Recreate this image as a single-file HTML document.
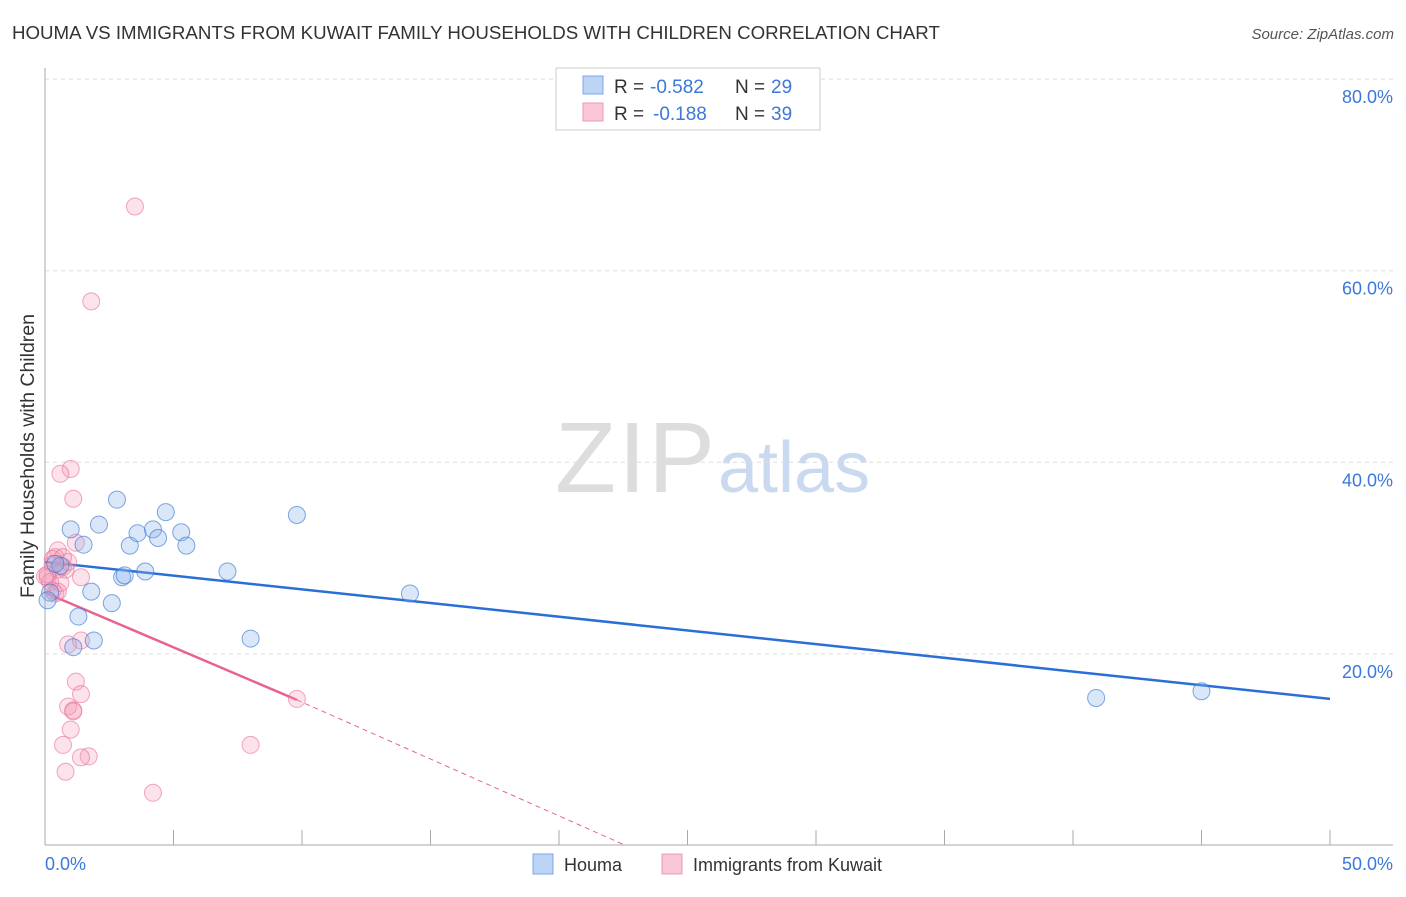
<!DOCTYPE html>
<html><head><meta charset="utf-8"><style>
body{margin:0;background:#fff;font-family:"Liberation Sans",sans-serif}
svg text{font-family:"Liberation Sans",sans-serif}
</style></head><body>
<svg width="1406" height="892">
<text x="12" y="39" font-size="18.7" fill="#333">HOUMA VS IMMIGRANTS FROM KUWAIT FAMILY HOUSEHOLDS WITH CHILDREN CORRELATION CHART</text>
<text x="1394" y="39" font-size="15" fill="#555" font-style="italic" text-anchor="end">Source: ZipAtlas.com</text>
<text x="555" y="492" font-size="100" fill="#ddd" textLength="160" font-family="Liberation Serif">ZIP</text>
<text x="718" y="492" font-size="72" fill="#c9d9f0">atlas</text>
<g id="grid"></g><g id="axes"></g><g id="lines"></g><g id="pts"></g>
<text transform="translate(34,456) rotate(-90)" font-size="19.5" fill="#333" text-anchor="middle">Family Households with Children</text>
<text x="45" y="870" font-size="18" fill="#3b78d8">0.0%</text>
<text x="1393" y="870" font-size="18" fill="#3b78d8" text-anchor="end">50.0%</text>
<g>
<rect x="556" y="68" width="264" height="62" fill="#fff" stroke="#ccc"/>
<rect x="583" y="76" width="20" height="18" fill="#bcd4f5" stroke="#7aa7e8"/>
<rect x="583" y="103" width="20" height="18" fill="#f9c6d6" stroke="#ee9ab5"/>
<text x="614" y="93" font-size="19" fill="#333">R =</text>
<text x="650" y="93" font-size="19" fill="#3b78d8">-0.582</text>
<text x="735" y="93" font-size="19" fill="#333">N =</text>
<text x="771" y="93" font-size="19" fill="#3b78d8">29</text>
<text x="614" y="120" font-size="19" fill="#333">R =</text>
<text x="653" y="120" font-size="19" fill="#3b78d8">-0.188</text>
<text x="735" y="120" font-size="19" fill="#333">N =</text>
<text x="771" y="120" font-size="19" fill="#3b78d8">39</text>
</g>
<g>
<rect x="533" y="854" width="20" height="20" fill="#bcd4f5" stroke="#7aa7e8"/>
<text x="564" y="871" font-size="18" fill="#333">Houma</text>
<rect x="662" y="854" width="20" height="20" fill="#f9c6d6" stroke="#ee9ab5"/>
<text x="693" y="871" font-size="18" fill="#333">Immigrants from Kuwait</text>
</g>
</svg>
<script>
const yTicks=[20,40,60,80];
const blueX=[1.0,2.1,2.8,1.5,1.8,1.3,1.1,1.9,2.6,3.0,3.1,3.3,3.6,3.9,4.2,4.4,4.7,5.3,5.5,7.1,8.0,9.8,14.2,40.9,45.0,0.2,0.1,0.6,0.4];
const blueY=[33.0,33.5,36.1,31.4,26.5,23.9,20.7,21.4,25.3,28.0,28.2,31.3,32.6,28.6,33.0,32.1,34.8,32.7,31.3,28.6,21.6,34.5,26.3,15.4,16.1,26.4,25.6,29.2,29.4];
const pinkX=[3.5,1.8,1.0,0.6,1.1,0.5,1.2,1.4,0.3,0.5,0.7,0.1,0.2,0.4,0.8,0.9,1.4,1.2,1.4,0.9,1.1,1.1,1.0,0.7,1.7,1.4,0.8,4.2,8.0,9.8,0.3,0.4,0.1,0.3,0.6,0.0,0.5,0.9,0.7];
const pinkY=[66.7,56.8,39.3,38.8,36.2,30.8,31.6,28.0,29.4,28.8,29.1,28.0,27.5,26.3,28.8,21.0,21.4,17.1,15.8,14.5,14.1,14.0,12.1,10.5,9.3,9.2,7.7,5.5,10.5,15.3,29.9,30.1,28.3,26.6,27.4,28.1,26.5,29.6,30.1];
const blueLine=[29.6,15.3];
const pinkLine=[26.4,15.2,9.8,0];
const X=v=>45+v/50*1285, Y=v=>845.5-v/20*191.6;
const ns="http://www.w3.org/2000/svg";
function mk(p,t,a){const e=document.createElementNS(ns,t);for(const k in a)e.setAttribute(k,a[k]);document.getElementById(p).appendChild(e);return e;}
yTicks.forEach(t=>{
 const g=mk('grid','line',{x1:45,x2:1393,y1:Y(t),y2:Y(t),stroke:'#ddd','stroke-dasharray':'4,4'});
 
 
 const tx=mk('grid','text',{x:1393,y:Y(t)+24,'font-size':18,fill:'#3b78d8','text-anchor':'end'});
 tx.textContent=t.toFixed(1)+'%';
 
 
});
const ax=mk('axes','line',{x1:45,x2:45,y1:68,y2:845,stroke:'#aaa'});


const bx=mk('axes','line',{x1:45,x2:1393,y1:845,y2:845,stroke:'#aaa'});


for(let i=0;i<=10;i++){const t=mk('axes','line',{x1:X(i*5),x2:X(i*5),y1:830,y2:845,stroke:'#aaa'});
 
 }
let l=mk('lines','line',{x1:X(0),y1:Y(blueLine[0]),x2:X(50),y2:Y(blueLine[1]),stroke:'#2a6fd6','stroke-width':2.5});


l=mk('lines','line',{x1:X(0),y1:Y(pinkLine[0]),x2:X(pinkLine[2]),y2:Y(pinkLine[1]),stroke:'#e8628f','stroke-width':2.5});


l=mk('lines','line',{x1:X(pinkLine[2]),y1:Y(pinkLine[1]),x2:X(22.6),y2:Y(pinkLine[3]),stroke:'#e8628f','stroke-width':1,'stroke-dasharray':'5,4'});


pinkX.forEach((v,i)=>{const c=mk('pts','circle',{cx:X(v),cy:Y(pinkY[i]),r:8.5,fill:'rgba(244,150,180,0.28)',stroke:'rgba(232,110,150,0.6)'});
 
 });
blueX.forEach((v,i)=>{const c=mk('pts','circle',{cx:X(v),cy:Y(blueY[i]),r:8.5,fill:'rgba(140,180,235,0.32)',stroke:'rgba(60,120,210,0.65)'});
 
 });
</script>
</body></html>
